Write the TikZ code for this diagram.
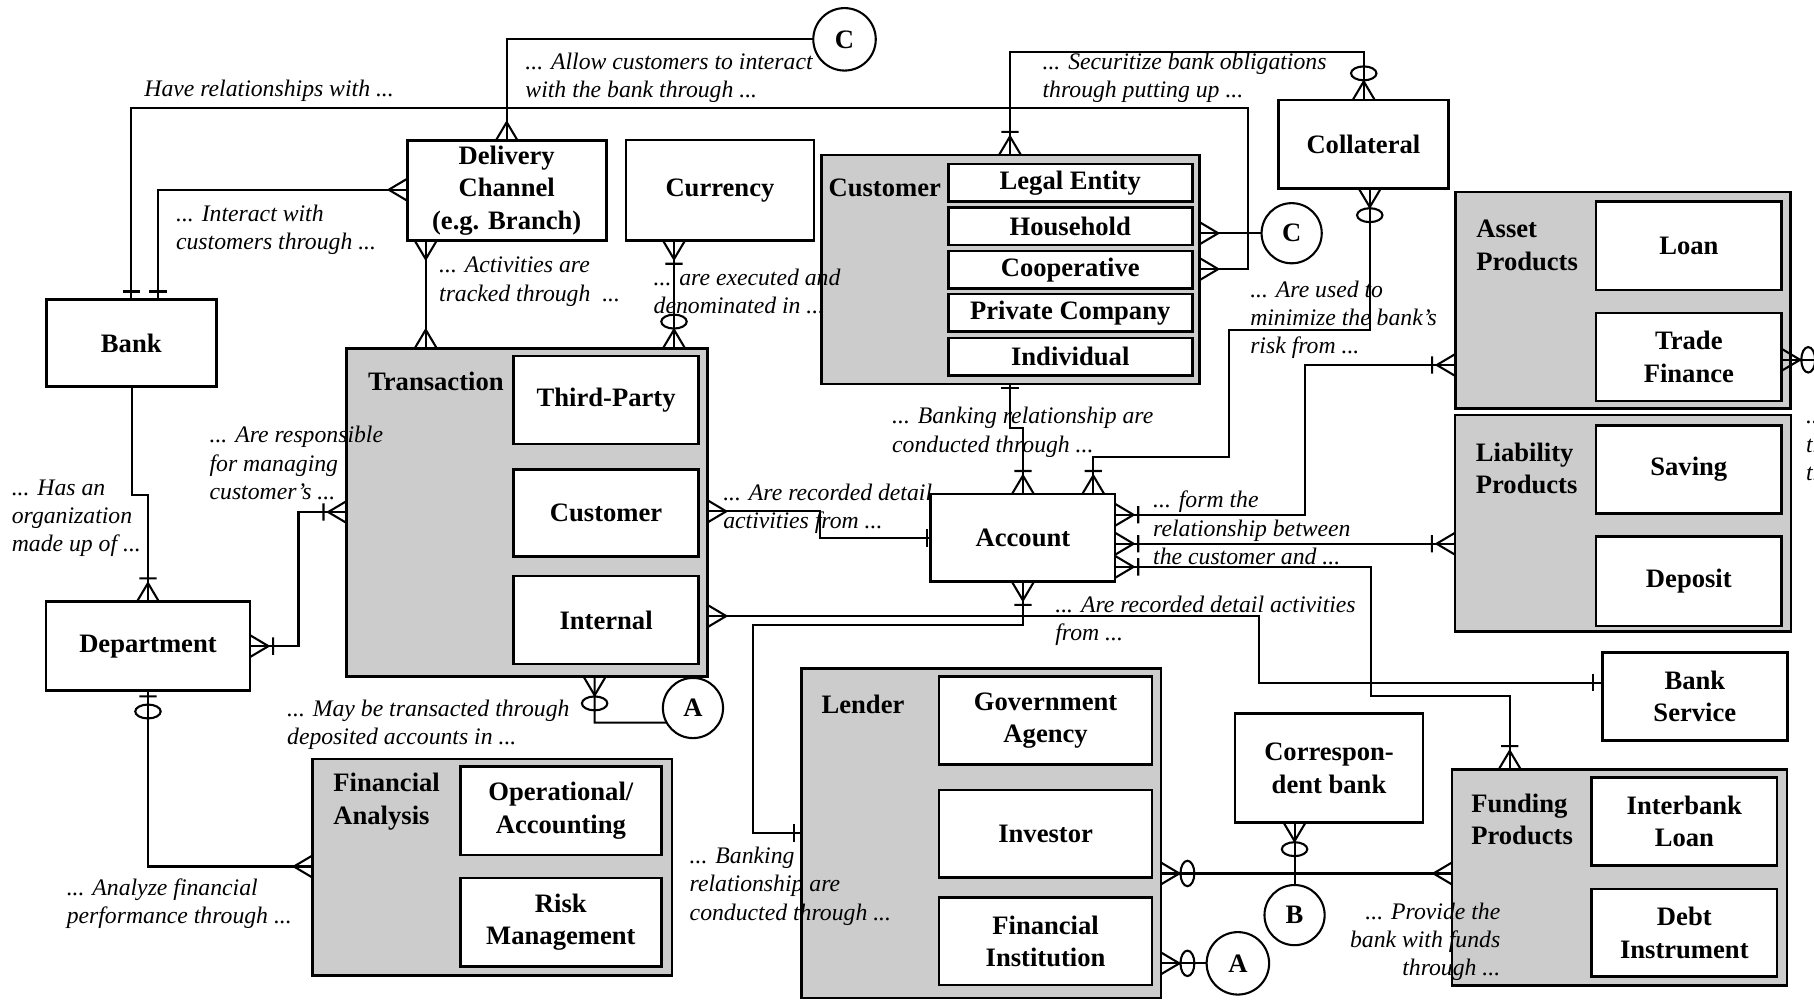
\documentclass[tikz,border=0pt]{standalone}
\usepackage{fontspec}
\setmainfont{Liberation Serif}
\usetikzlibrary{calc}
\definecolor{grpgray}{HTML}{CCCCCC}
\newcommand\entfont{\fontsize{23}{28}\selectfont\bfseries}
\newcommand\notefont{\fontsize{20.5}{24.5}\selectfont\itshape}
\begin{document}
\begin{tikzpicture}[x=1pt,y=-1pt,
  box/.style={draw=black,line width=2.3pt,fill=white,inner sep=0pt,outer sep=0pt,align=center,font=\entfont},
  group/.style={draw=black,line width=2.3pt,fill=grpgray,inner sep=0pt,outer sep=0pt},
  glabel/.style={inner sep=0pt,align=left,font=\entfont,anchor=west},
  link/.style={line width=1.8pt},
  note/.style={inner sep=0pt,align=left,font=\notefont,anchor=west},
  ref/.style={draw=black,circle,line width=1.8pt,minimum size=54pt,inner sep=0pt,outer sep=0pt,fill=white,font=\entfont},
  pics/many/.style={code={\draw[link] (16,0) -- (0,9.5) (16,0) -- (0,-9.5);}},
  pics/manyone/.style={code={\draw[link] (16,0) -- (0,9.5) (16,0) -- (0,-9.5) (20,-7.5) -- (20,7.5);}},
  pics/manyzero/.style={code={\draw[link] (16,0) -- (0,9.5) (16,0) -- (0,-9.5) (23,0) ellipse [x radius=6,y radius=11];}},
  pics/one/.style={code={\draw[link] (#1,-7.5) -- (#1,7.5);}},
  pics/one/.default=7,
  pics/zeroone/.style={code={\draw[link] (5,-7.5) -- (5,7.5) (18,0) ellipse [x radius=6,y radius=11];}},
]
\fill[white] (0,0) rectangle (1568,867);
\useasboundingbox (0,0) rectangle (1568,867);

% ---------- plain entities ----------
\node[box,minimum width=147,minimum height=75] (bank) at (113.5,296.5) {Bank};
\node[box,minimum width=172,minimum height=86.4] (dc) at (438,164.8) {Delivery\\Channel\\(e.g. Branch)};
\node[box,minimum width=162.6,minimum height=87] (cur) at (622.3,164.5) {Currency};
\node[box,minimum width=147,minimum height=76.6] (coll) at (1178.5,124.7) {Collateral};
\node[box,minimum width=159.3,minimum height=75.8] (account) at (884.2,465) {Account};
\node[box,minimum width=176.3,minimum height=77] (dept) at (127.9,558.5) {Department};
\node[box,minimum width=160,minimum height=76.3] (bsvc) at (1465,601.9) {Bank\\Service};
\node[box,minimum width=162.5,minimum height=94] (corr) at (1148.8,664) {Correspon-\\dent bank};

% ---------- Customer ----------
\node[group,minimum width=327,minimum height=198] (custG) at (873.5,233) {};
\node[glabel] (custL) at (716,162.7) {Customer};
\node[box,minimum width=211,minimum height=32.5] (legal) at (925.1,158) {Legal Entity};
\node[box,minimum width=211,minimum height=32.5] (house) at (925.1,195.5) {Household};
\node[box,minimum width=211,minimum height=32.5] (coop) at (925.1,233.3) {Cooperative};
\node[box,minimum width=211,minimum height=32.5] (priv) at (925.1,270.5) {Private Company};
\node[box,minimum width=211,minimum height=32.5] (indiv) at (925.1,308.3) {Individual};

% ---------- Transaction ----------
\node[group,minimum width=312.1,minimum height=284] (trG) at (455.7,443) {};
\node[glabel] (trL) at (318,330) {Transaction};
\node[box,minimum width=160.3,minimum height=76.1] (third) at (523.9,345.8) {Third-Party};
\node[box,minimum width=160.3,minimum height=75.4] (tcust) at (523.9,443.3) {Customer};
\node[box,minimum width=160.3,minimum height=76] (intern) at (523.9,536) {Internal};

% ---------- Asset / Liability products ----------
\node[group,minimum width=289.7,minimum height=187] (assetG) at (1402.8,259.5) {};
\node[glabel] (assetL) at (1276,212) {Asset\\Products};
\node[box,minimum width=160.4,minimum height=76.7] (loan) at (1459.8,212.3) {Loan};
\node[box,minimum width=160.4,minimum height=76] (trade) at (1459.8,308.6) {Trade\\Finance};
\node[group,minimum width=290.3,minimum height=187.3] (liabG) at (1402.9,452.3) {};
\node[glabel] (liabL) at (1275.5,404.7) {Liability\\Products};
\node[box,minimum width=160.4,minimum height=76] (saving) at (1459.8,406) {Saving};
\node[box,minimum width=160.4,minimum height=77] (deposit) at (1459.8,502.5) {Deposit};

% ---------- Funding products ----------
\node[group,minimum width=289.5,minimum height=187] (fundG) at (1399.8,758.5) {};
\node[glabel] (fundL) at (1271.6,708.5) {Funding\\Products};
\node[box,minimum width=160.3,minimum height=76] (ibl) at (1455.9,710) {Interbank\\Loan};
\node[box,minimum width=160.3,minimum height=75.5] (debt) at (1455.9,806.3) {Debt\\Instrument};

% ---------- Financial analysis ----------
\node[group,minimum width=311,minimum height=187] (faG) at (425.5,749.5) {};
\node[glabel] (faL) at (288,693) {Financial\\Analysis};
\node[box,minimum width=173.5,minimum height=76.3] (opacc) at (484.8,700.9) {Operational/\\Accounting};
\node[box,minimum width=173.5,minimum height=76.6] (risk) at (484.8,797.3) {Risk\\Management};

% ---------- Lender ----------
\node[group,minimum width=310.8,minimum height=284.6] (lendG) at (848,720.3) {};
\node[glabel] (lendL) at (710,609) {Lender};
\node[box,minimum width=184.1,minimum height=76] (gov) at (903.8,623) {Government\\Agency};
\node[box,minimum width=184.1,minimum height=75.6] (inv) at (903.8,720.8) {Investor};
\node[box,minimum width=184.1,minimum height=76] (fin) at (903.8,813.5) {Financial\\Institution};

% ---------- off-page references ----------
\node[ref] (refC1) at (730,34) {C};
\node[ref,minimum size=52pt] (refC2) at (1116.5,201.6) {C};
\node[ref,minimum size=52pt] (refA1) at (599,612) {A};
\node[ref] (refA2) at (1070,832.7) {A};
\node[ref,minimum size=52pt] (refB) at (1119,791) {B};
\coordinate (offR) at (1600,311);

% ---------- connectors ----------
% Bank -- Customer
\draw[link] (113.5,0 |- bank.north) -- (113.5,93) -- (1078.5,93) -- (1078.5,232.6) -- (custG.east |- 0,232.6);
\pic[rotate=90] at (113.5,0 |- bank.north) {one};
\pic at (custG.east |- 0,232.6) {many};
% Bank -- Delivery Channel
\draw[link] (136.6,0 |- bank.north) -- (136.6,164) -- (dc.west |- 0,164);
\pic[rotate=90] at (136.6,0 |- bank.north) {one};
\pic[rotate=180] at (dc.west |- 0,164) {many};
% Delivery Channel -- C
\draw[link] (dc.north) |- (refC1.west);
\pic[rotate=90] at (dc.north) {many};
% Customer -- C
\draw[link] (custG.east |- 0,201.6) -- (refC2.west);
\pic at (custG.east |- 0,201.6) {many};
% Delivery Channel -- Transaction
\draw[link] (368,0 |- dc.south) -- (368,0 |- trG.north);
\pic[rotate=-90] at (368,0 |- dc.south) {many};
\pic[rotate=90] at (368,0 |- trG.north) {many};
% Currency -- Transaction
\draw[link] (582.6,0 |- cur.south) -- (582.6,0 |- trG.north);
\pic[rotate=-90] at (582.6,0 |- cur.south) {manyone};
\pic[rotate=90] at (582.6,0 |- trG.north) {manyzero};
% Customer -- Collateral
\draw[link] (873,0 |- custG.north) -- (873,45) -- (1178.8,45) -- (1178.8,0 |- coll.north);
\pic[rotate=90] at (873,0 |- custG.north) {manyone};
\pic[rotate=90] at (1178.8,0 |- coll.north) {manyzero};
% Customer -- Account
\draw[link] (873,0 |- custG.south) -- (873,370) -- (884.2,370) -- (account.north);
\pic[rotate=-90] at (873,0 |- custG.south) {one=3.5};
\pic[rotate=90] at (account.north) {manyone};
% Collateral -- Account
\draw[link] (1184,0 |- coll.south) -- (1184,285) -- (1062,285) -- (1062,395) -- (945,395) -- (945,0 |- account.north);
\pic[rotate=-90] at (1184,0 |- coll.south) {manyzero};
\pic[rotate=90] at (945,0 |- account.north) {manyone};
% Account -- Asset Products
\draw[link] (account.east |- 0,445) -- (1128,445) -- (1128,315.5) -- (assetG.west |- 0,315.5);
\pic at (account.east |- 0,445) {manyone};
\pic[rotate=180] at (assetG.west |- 0,315.5) {manyone};
% Account -- Liability Products
\draw[link] (account.east |- 0,470) -- (liabG.west |- 0,470);
\pic at (account.east |- 0,470) {manyone};
\pic[rotate=180] at (liabG.west |- 0,470) {manyone};
% Account -- Funding Products
\draw[link] (account.east |- 0,490) -- (1185,490) -- (1185,602) -- (1305,602) -- (1305,0 |- fundG.north);
\pic at (account.east |- 0,490) {manyone};
\pic[rotate=90] at (1305,0 |- fundG.north) {manyone};
% Account -- Lender
\draw[link] (account.south) -- (884.2,540) -- (651,540) -- (651,720) -- (lendG.west |- 0,720);
\pic[rotate=-90] at (account.south) {manyone};
\pic[rotate=180] at (lendG.west |- 0,720) {one=6};
% Transaction -- Account
\draw[link] (trG.east |- 0,442) -- (709,442) -- (709,465) -- (account.west);
\pic at (trG.east |- 0,442) {many};
\pic[rotate=180] at (account.west) {one=3.5};
% Transaction -- Bank Service
\draw[link] (trG.east |- 0,532.5) -- (1088,532.5) -- (1088,590) -- (bsvc.west |- 0,590);
\pic at (trG.east |- 0,532.5) {many};
\pic[rotate=180] at (bsvc.west |- 0,590) {one=8};
% Department -- Transaction
\draw[link] (dept.east) -- (258,558.5) -- (258,442.6) -- (trG.west |- 0,442.6);
\pic at (dept.east) {manyone};
\pic[rotate=180] at (trG.west |- 0,442.6) {manyone};
% Bank -- Department
\draw[link] (114,0 |- bank.south) -- (114,428) -- (127.9,428) -- (dept.north);
\pic[rotate=90] at (dept.north) {manyone};
% Department -- Financial Analysis
\draw[link] (dept.south) -- (127.9,749) -- (faG.west |- 0,749);
\pic[rotate=-90] at (dept.south) {zeroone};
\pic[rotate=180] at (faG.west |- 0,749) {many};
% Transaction -- A
\draw[link] (514,0 |- trG.south) -- (514,624.6) -- (refA1.209);
\pic[rotate=-90] at (514,0 |- trG.south) {manyzero};
% Lender -- A
\draw[link] (lendG.east |- 0,832.7) -- (refA2.west);
\pic at (lendG.east |- 0,832.7) {manyzero};
% Lender -- Funding Products
\draw[link] (lendG.east |- 0,755) -- (fundG.west |- 0,755);
\pic at (lendG.east |- 0,755) {manyzero};
\pic[rotate=180] at (fundG.west |- 0,755) {many};
% Correspondent bank -- B
\draw[link] (1119,0 |- corr.south) -- (refB.north);
\pic[rotate=-90] at (1119,0 |- corr.south) {manyzero};
% Trade Finance -- off page
\draw[link] (trade.east |- 0,311) -- (offR);
\pic at (trade.east |- 0,311) {manyzero};

% ---------- relationship phrases ----------
\node[note] (nHave) at (124.6,78.5) {Have relationships with ...};
\node[note] (nAllow) at (454,67) {... Allow customers to interact\\with the bank through ...};
\node[note] (nSecur) at (901,67) {... Securitize bank obligations\\through putting up ...};
\node[note] (nInter) at (152,198.4) {... Interact with\\customers through ...};
\node[note] (nActiv) at (379.4,243.5) {... Activities are\\tracked through\ \ ...};
\node[note] (nExec) at (564.8,252) {... are executed and\\denominated in ...};
\node[note] (nBrel) at (771,373.7) {... Banking relationship are\\conducted through ...};
\node[note] (nUsed) at (1080.5,276.5) {... Are used to\\minimize the bank’s\\risk from ...};
\node[note] (nForm) at (996.6,456.5) {... form the\\relationship between\\the customer and ...};
\node[note] (nRec1) at (625,440) {... Are recorded detail\\activities from ...};
\node[note] (nRec2) at (912,536.5) {... Are recorded detail activities\\from ...};
\node[note] (nResp) at (181,400.3) {... Are responsible\\for managing\\customer’s ...};
\node[note] (nHas) at (10,448) {... Has an\\organization\\made up of ...};
\node[note] (nMay) at (248,626.5) {... May be transacted through\\deposited accounts in ...};
\node[note] (nAnal) at (57.5,781) {... Analyze financial\\performance through ...};
\node[note] (nBank2) at (596,766) {... Banking\\relationship are\\conducted through ...};
\node[note,anchor=east,align=right] (nProv) at (1297,814) {... Provide the\\bank with funds\\through ...};
\node[note] (nEdge) at (1561,390) {...\\the\\the};
\end{tikzpicture}
\end{document}
